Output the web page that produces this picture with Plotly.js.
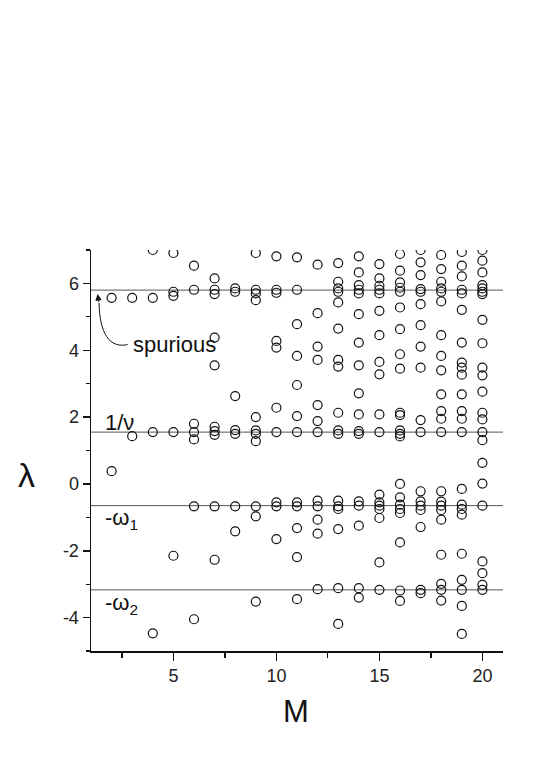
<!DOCTYPE html>
<html>
<head>
<meta charset="utf-8">
<script src="https://cdn.plot.ly/plotly-3.0.1.min.js"></script>
<style>
  html, body { margin: 0; padding: 0; background: #fff; }
  #chart { width: 545px; height: 782px; }
</style>
</head>
<body>
<div id="chart"></div>
<script>
// eigenvalues lambda for each basis size M
var M = [2, 3, 4, 5, 6, 7, 8, 9, 10, 11, 12, 13, 14, 15, 16, 17, 18, 19, 20];
var lambdaByM = [
    [5.57, 0.38],
    [5.57, 1.43],
    [7.0, 5.57, 1.55, -4.47],
    [6.91, 5.75, 5.63, 1.55, -2.15],
    [6.53, 5.81, 1.8, 1.55, 1.33, -0.67, -4.05],
    [6.15, 5.81, 5.68, 4.38, 3.55, 1.71, 1.58, 1.47, -0.67, -2.27],
    [5.85, 5.75, 2.63, 1.61, 1.5, -0.67, -1.42],
    [6.91, 5.81, 5.7, 5.5, 2.0, 1.6, 1.5, 1.28, -0.67, -0.97, -3.52],
    [6.81, 5.81, 5.72, 4.28, 4.08, 2.28, 1.55, -0.55, -0.67, -1.65],
    [6.78, 5.81, 4.78, 3.83, 2.96, 2.03, 1.55, -0.55, -0.67, -1.32, -2.19, -3.45],
    [6.56, 5.11, 4.11, 3.71, 2.36, 1.88, 1.55, -0.5, -0.67, -1.07, -1.49, -3.15],
    [6.61, 6.05, 5.85, 5.75, 5.43, 4.65, 3.71, 3.51, 2.13, 1.6, 1.5, -0.5, -0.67, -0.75, -1.35, -3.12, -4.19],
    [6.81, 6.33, 5.95, 5.81, 5.7, 5.08, 4.23, 3.55, 2.71, 2.08, 1.58, 1.5, -0.52, -0.65, -1.25, -3.12, -3.4],
    [6.58, 6.15, 5.93, 5.81, 5.7, 5.18, 4.45, 3.65, 3.28, 2.08, 1.55, -0.32, -0.55, -0.65, -0.75, -1.02, -2.35, -3.17],
    [6.88, 6.38, 6.03, 5.87, 5.75, 5.28, 4.63, 3.88, 3.45, 2.13, 2.06, 1.6, 1.5, 1.42, 0.0, -0.4, -0.62, -0.75, -0.87, -1.75, -3.19, -3.5],
    [7.0, 6.63, 6.25, 5.83, 5.75, 5.38, 4.75, 4.11, 3.48, 1.91, 1.55, -0.22, -0.52, -0.65, -0.78, -1.29, -3.17, -3.27],
    [6.85, 6.43, 6.05, 5.85, 5.75, 5.46, 4.45, 3.83, 3.4, 2.68, 2.18, 1.95, 1.55, -0.22, -0.53, -0.65, -0.78, -1.07, -2.12, -2.99, -3.17, -3.49],
    [6.94, 6.53, 6.21, 5.81, 5.7, 5.21, 4.23, 3.63, 3.48, 3.27, 2.68, 2.18, 1.95, 1.55, -0.15, -0.62, -0.75, -0.92, -2.09, -2.87, -3.17, -3.65, -4.49],
    [7.0, 6.68, 6.33, 5.95, 5.85, 5.75, 5.68, 4.91, 4.21, 3.48, 3.25, 2.76, 2.13, 1.93, 1.55, 1.31, 0.63, 0.01, -0.65, -2.32, -2.67, -3.02, -3.17]
];

// exact levels drawn as horizontal lines
var levels = [5.80, 1.55, -0.65, -3.17];
var levelLabels = ['', '1/\u03bd', '-\u03c9<sub>1</sub>', '-\u03c9<sub>2</sub>'];
var labelY = [0, 1.84, -1.05, -3.6];

var yTicks = [-4, -2, 0, 2, 4, 6];
var yTickText = ['-4', '-2', '0', '2', '4', '6'];
var xTicks = [5, 10, 15, 20];

var FONT = 'Liberation Sans, Arial, sans-serif';

var xs = [], ys = [];
M.forEach(function (m, i) {
    lambdaByM[i].forEach(function (v) {
        xs.push(m);
        ys.push(v);
    });
});

var data = [{
    x: xs,
    y: ys,
    type: 'scatter',
    mode: 'markers',
    cliponaxis: true,
    marker: {
        symbol: 'circle-open',
        size: 9,
        color: '#111',
        line: {width: 1.2, color: '#111'}
    },
    hoverinfo: 'x+y'
}];

var shapes = levels.map(function (v) {
    return {
        type: 'line', xref: 'paper', yref: 'y',
        x0: 0, x1: 1, y0: v, y1: v,
        line: {color: '#555', width: 1},
        layer: 'below'
    };
});
// curved arrow pointing to the spurious level
shapes.push({
    type: 'path', xref: 'x', yref: 'y',
    path: 'M 2.78,4.17 C 1.9,4.05 1.42,4.5 1.39,5.42',
    line: {color: '#111', width: 1}
});

var annotations = [];
levels.forEach(function (v, i) {
    if (!levelLabels[i]) return;
    annotations.push({
        x: 1.58, y: labelY[i], xref: 'x', yref: 'y',
        xanchor: 'left', yanchor: 'middle',
        text: levelLabels[i], showarrow: false,
        font: {family: FONT, size: 22, color: '#111'}
    });
});
annotations.push({
    x: 5.03, y: 4.18, xref: 'x', yref: 'y',
    xanchor: 'center', yanchor: 'middle',
    text: 'spurious', showarrow: false,
    font: {family: FONT, size: 22, color: '#111'}
});
annotations.push({
    x: 1.32, y: 5.68, xref: 'x', yref: 'y',
    ax: 1.39, ay: 5.4, axref: 'x', ayref: 'y',
    text: '', showarrow: true,
    arrowhead: 2, arrowsize: 1.3, arrowwidth: 1, arrowcolor: '#111'
});
annotations.push({
    x: -0.157, y: 0.439, xref: 'paper', yref: 'paper',
    xanchor: 'center', yanchor: 'middle',
    text: '\u03bb', showarrow: false,
    font: {family: FONT, size: 34, color: '#111'}
});
annotations.push({
    x: 0.497, y: -0.152, xref: 'paper', yref: 'paper',
    xanchor: 'center', yanchor: 'middle',
    text: 'M', showarrow: false,
    font: {family: FONT, size: 31, color: '#111'}
});

var layout = {
    width: 545,
    height: 782,
    margin: {l: 91, r: 42, t: 250, b: 131},
    paper_bgcolor: '#fff',
    plot_bgcolor: '#fff',
    showlegend: false,
    font: {family: FONT, color: '#111'},
    xaxis: {
        range: [1, 21],
        tickvals: xTicks,
        ticks: 'outside', ticklen: 8, tickwidth: 1.5, tickcolor: '#111',
        minor: {tickvals: [2.5, 7.5, 12.5, 17.5], ticks: 'outside', ticklen: 5, tickwidth: 1.2, tickcolor: '#111'},
        showline: true, linewidth: 1.5, linecolor: '#111',
        showgrid: false, zeroline: false,
        tickfont: {family: FONT, size: 18, color: '#222'}
    },
    yaxis: {
        range: [-5, 7],
        tickvals: yTicks, ticktext: yTickText,
        ticks: 'outside', ticklen: 7, tickwidth: 1.5, tickcolor: '#111',
        minor: {dtick: 1, ticks: 'outside', ticklen: 4, tickwidth: 1.2, tickcolor: '#111'},
        showline: true, linewidth: 1.5, linecolor: '#111',
        showgrid: false, zeroline: false,
        tickfont: {family: FONT, size: 18, color: '#222'}
    },
    shapes: shapes,
    annotations: annotations
};

Plotly.newPlot('chart', data, layout, {displayModeBar: false, staticPlot: true});
</script>
</body>
</html>
